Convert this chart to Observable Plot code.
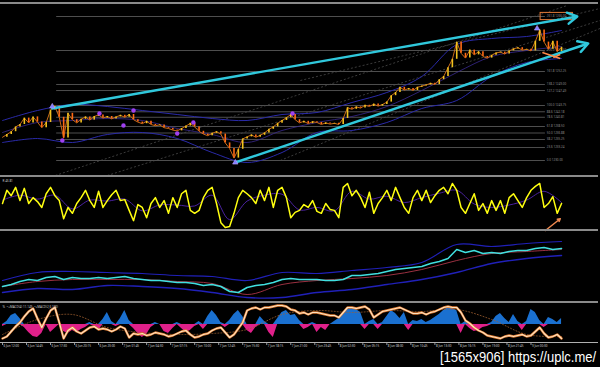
<!DOCTYPE html>
<html><head><meta charset="utf-8">
<script src="https://cdn.jsdelivr.net/npm/d3@7"></script>
<script src="https://cdn.jsdelivr.net/npm/@observablehq/plot@0.6"></script>
<style>
html,body{margin:0;padding:0;background:#000;}
#chart{position:relative;width:600px;height:367px;background:#000;overflow:hidden;font-family:"DejaVu Sans",sans-serif;}
.panel{position:absolute;left:0;}
.sep{position:absolute;left:0;width:598px;background:#8a8a8a;}
</style></head><body><div id="chart"></div>
<script>
// ---------- DATA ----------
// half-hour bars, bar 0 = 6 Jun 12:00
const closes = [1235.8,1236.5,1237.2,1238.4,1239.0,1240.6,1239.4,1240.9,1239.6,1238.2,
1239.5,1242.6,1243.6,1240.8,1235.6,1241.8,1240.2,1239.4,1240.3,1240.9,
1240.1,1241.0,1241.4,1240.6,1241.0,1240.4,1240.9,1241.3,1240.8,1241.5,
1240.2,1239.6,1239.2,1239.8,1239.0,1238.7,1238.9,1238.2,1238.0,1237.6,
1237.4,1238.0,1238.6,1239.3,1238.4,1237.3,1236.6,1236.2,1236.8,1237.2,
1236.6,1234.4,1233.0,1230.6,1232.8,1235.4,1235.9,1236.4,1235.8,1236.3,
1236.9,1237.8,1238.4,1239.3,1240.0,1240.7,1241.5,1240.2,1239.4,1239.8,
1239.2,1239.7,1239.5,1239.0,1239.4,1239.1,1239.3,1239.0,1240.5,1243.2,
1242.8,1243.4,1243.1,1243.8,1243.5,1244.1,1243.6,1244.0,1244.6,1246.2,
1247.0,1248.3,1247.6,1248.0,1247.5,1248.3,1248.6,1248.9,1249.3,1249.0,
1250.2,1251.0,1253.2,1255.3,1259.6,1256.8,1255.6,1257.6,1256.4,1257.2,
1256.0,1255.6,1256.3,1256.9,1257.1,1256.6,1257.4,1257.9,1258.2,1257.6,
1257.8,1257.4,1259.8,1262.6,1259.6,1257.8,1259.8,1257.2,1258.3];

const bandBars = [0,8,16,24,32,40,48,56,64,72,80,88,96,104,112,120,128];
const bbUpper = [1240,1242.5,1244,1243.5,1242.5,1241.5,1240.5,1240.0,1241.5,1242,1244.5,1247,1251,1259,1260.5,1261,1262.5];
const bbMid   = [1237,1239.5,1240,1240.5,1240,1238,1236.5,1234.5,1237.5,1239.5,1241,1243.5,1247.5,1252,1256,1257.5,1258.5];
const bbLower = [1234.5,1235.5,1234.5,1236.5,1237,1235.5,1232,1229.5,1232,1237,1237.5,1239.5,1243,1245,1251,1254.5,1255.5];

const fibLevels = [0,23.6,38.2,50,61.8,78.6,88.6,100,127.2,138.2,161.8,200,261.8];
const fibLow = 1230.00, fibHigh = 1243.75;
const fibStartBar = 12.4, fibEndBar = 124.3, fibLabelBar = 124.6;

const trendArrows = [
  {x1: 11.4, y1: 1243.0, x2: 131.6, y2: 1266.0},
  {x1: 53.3, y1: 1229.5, x2: 134.1, y2: 1259.25}
];
const channelLines = [
  {x1: 12.1, y1: 1226.25, x2: 129.3, y2: 1268.75},
  {x1: 24.0, y1: 1226.25, x2: 136.8, y2: 1265.0},
  {x1: 63.6, y1: 1230.0, x2: 136.8, y2: 1263.0},
  {x1: 68.2, y1: 1250.0, x2: 136.8, y2: 1268.0}
];
const fractalBars   = [13.7, 22.2, 27.7, 30.0, 40.0, 43.7, 66.4];
const fractalPrices = [1235.0, 1241.75, 1238.75, 1242.5, 1236.75, 1239.5, 1241.75];
const pivotBars   = [11.4, 53.3, 122.4];
const pivotPrices = [1243.5, 1229.5, 1263.0];
const orangeMarks = [
  {x1: 123.6, y1: 1257.0, x2: 127.7, y2: 1255.5},
  {x1: 126.1, y1: 1255.75, x2: 127.7, y2: 1256.5}
];

const oscValues = [53,80,69,86,59,84,53,65,57,45,
73,86,69,59,22,45,33,53,65,80,
59,45,78,45,59,71,80,59,61,39,
18,51,45,24,53,65,45,59,33,65,
45,73,80,39,33,39,65,80,86,53,
14,4,6,33,65,80,73,65,53,80,
59,86,45,80,86,65,24,35,39,51,
45,59,37,33,53,41,39,24,86,94,
69,80,65,45,76,33,53,65,80,59,
86,65,45,33,65,80,59,80,55,69,
80,86,73,94,80,45,33,53,73,39,
53,33,59,39,59,33,65,73,59,45,
65,80,88,94,45,53,67,33,53];
const oscSignalBars = [0,4,8,12,16,20,24,28,32,36,40,44,48,52,56,60,64,68,72,76,80,84,88,92,96,100,104,108,112,116,120,124,128];
const oscSignal = [60,70,62,70,42,60,58,62,38,50,50,48,70,20,58,70,72,40,45,38,78,62,68,55,65,74,80,52,45,50,60,78,55];
const oscArrow = [{x1: 124.3, y1: -2, x2: 127.7, y2: 22}];

const momBars = [0,2,4,6,8,10,12,14,16,18,20,22,24,26,28,30,32,34,36,38,40,42,44,46,48,50,52,54,56,58,60,62,64,66,68,70,72,74,76,78,80,82,84,86,88,90,92,94,96,98,100,102,104,106,108,110,112,114,116,118,120,122,124,126,128];
const momValues = [14,16,19,21,20,23,24,21,23,22,22,23,22,23,24,22,21,20,20,19,18,18,17,15,16,14,9,8,13,15,16,18,21,22,21,21,21,20,20,21,25,25,26,27,29,31,32,33,34,37,39,42,51,48,50,47,48,47,49,50,50,52,53,51,52];
const momUpper = [20,28,29,28,27,25,24,20,28,27,30,33,38,56,54,57,59];
const momLower = [8,12,11,15,14,12,8,3,3,8,11,16,21,28,37,42,45];
const momMA    = [14,19,21,21,21,19,17,6,16,20,22,25,31,40,47,49,51];

const stochValues = [-14,-12,-7,-2,2,8,13,16,6,-3,
6,14,17,2,-14,-6,-3,-7,-9,-6,
-3,-2,-5,-4,-5,-7,-5,-2,-4,-13,
-9,-10,-9,-11,-10,-8,-9,-10,-12,-11,
-9,-7,-6,-10,-13,-12,-10,-9,-6,-4,
-3,-8,-13,-10,-4,2,14,16,17,15,
17,17,18,19,19,18,15,14,11,12,
10,12,12,11,10,9,9,7,12,17,
17,16,17,18,15,7,10,13,14,15,
16,17,15,13,11,11,12,10,12,13,
15,17,18,17,17,12,4,1,-3,-6,
-8,-11,-12,-13,-14,-12,-11,-12,-11,-10,
-12,-11,-7,-3,-9,-13,-12,-10,-14];
const histValues = [-2,3,9,11,6,-3,-8,-12,-13,-9,
0,-8,-4,0,-7,-9,-6,-8,-5,-3,
2,-2,-6,5,12,3,-2,6,14,4,
-4,-9,-13,-10,-3,2,0,-7,-9,-4,
2,-4,-8,-6,-2,3,-5,8,14,9,
2,-3,4,10,14,8,-6,-9,-3,8,
3,-8,-13,6,12,14,9,10,4,-5,
-3,2,-8,-3,-6,0,3,6,12,16,
17,15,12,-5,3,5,-5,2,8,14,
11,6,12,-6,4,3,5,2,4,7,
10,14,17,16,14,-9,3,-4,-7,-6,
-3,-2,2,8,11,6,2,10,3,-6,
3,15,12,4,-3,7,5,2,6];
const stochSignal = [-10,5,10,-3,-8,-10,-9,-5,10,14,12,14,13,15,5,-10,-12];

const tickBars = [0,5.5,11,16.5,22,27.5,33,38.5,44,49.5,55,60.5,66,71.5,77,82.5,88,93.5,99,104.5,110,115.5,121];
const tickLabels = ["6 Jun 12:00","6 Jun 14:45","6 Jun 17:30","6 Jun 20:15","6 Jun 23:00","7 Jun 01:45","7 Jun 04:30","7 Jun 07:15","7 Jun 10:00","7 Jun 12:45","7 Jun 15:30","7 Jun 18:15","7 Jun 21:00","7 Jun 23:45","8 Jun 02:30","8 Jun 05:15","8 Jun 08:00","8 Jun 10:45","8 Jun 13:30","8 Jun 16:15","8 Jun 19:00","8 Jun 21:45","9 Jun 00:30"];

const oscLabel = "R 43.81";
const macdLabel = "%  ~+MACD(4) 11.149  ~+MACD(2,6,100)";
const watermark = "[1565x906] https://uplc.me/";

// ---------- BUILD ----------
const chart = document.getElementById("chart");
const X = {domain: [0, 136], range: [2, 596], axis: null};
const bars = closes.map((c, i) => ({bar: i, open: i ? closes[i-1] : c, close: c}));
const osc = oscValues.map((v, i) => ({bar: i, v}));
const stoch = stochValues.map((v, i) => ({bar: i, v}));
const hist = histValues.map((v, i) => ({bar: i, v}));
const fibPrice = L => fibLow + (fibHigh - fibLow) * L / 100;

function place(svg, top) {
  const wrap = document.createElement("div");
  wrap.className = "panel";
  wrap.style.top = top + "px";
  wrap.appendChild(svg);
  chart.appendChild(wrap);
}
function sep(top, h, color) {
  const d = document.createElement("div");
  d.className = "sep"; d.style.top = top + "px"; d.style.height = h + "px";
  if (color) d.style.background = color;
  chart.appendChild(d);
}
const base = {width: 600, margin: 0, style: {background: "transparent", overflow: "visible"}};

// Panel 1: price
place(Plot.plot({...base, height: 176, x: X,
  y: {domain: [1226, 1270], range: [176, 0], axis: null},
  marks: [
    Plot.ruleY(fibLevels, {y: fibPrice, x1: () => fibStartBar, x2: () => fibEndBar, stroke: "#626262", strokeWidth: 0.8}),
    Plot.link(channelLines, {x1: "x1", y1: "y1", x2: "x2", y2: "y2", stroke: "#4a4a4a", strokeWidth: 0.8, strokeDasharray: "2,2"}),
    Plot.text(fibLevels, {x: () => fibLabelBar, y: fibPrice, text: L => `${L.toFixed(1)} ${fibPrice(L).toFixed(2)}`, fontSize: 3, fill: "#8c8c8c", textAnchor: "start"}),
    Plot.rect([261.8], {x1: () => 123.2, x2: () => 130.6, y1: L => fibPrice(L) - 0.9, y2: L => fibPrice(L) + 0.9, stroke: "#e07838", fill: "none", strokeWidth: 1}),
    Plot.line(bandBars, {x: d => d, y: (d, i) => bbUpper[i], stroke: "#2a2aa8", strokeWidth: 1, curve: "catmull-rom"}),
    Plot.line(bandBars, {x: d => d, y: (d, i) => bbMid[i], stroke: "#3a2a90", strokeWidth: 0.8, curve: "catmull-rom"}),
    Plot.line(bandBars, {x: d => d, y: (d, i) => bbLower[i], stroke: "#2a2aa8", strokeWidth: 1, curve: "catmull-rom"}),
    Plot.line(bars, {x: "bar", y: "close", stroke: "#c86a18", strokeWidth: 1}),
    Plot.ruleX(bars, {x: "bar", y1: "open", y2: "close", stroke: d => d.close >= d.open ? "#f2c21e" : "#ff6a14", strokeWidth: 1.6}),
    Plot.arrow(trendArrows, {x1: "x1", y1: "y1", x2: "x2", y2: "y2", stroke: "#30c8dc", strokeWidth: 2.4, headLength: 7}),
    Plot.link(orangeMarks, {x1: "x1", y1: "y1", x2: "x2", y2: "y2", stroke: "#ff8a4a", strokeWidth: 1.4}),
    Plot.dot(fractalBars, {x: d => d, y: (d, i) => fractalPrices[i], r: 2.2, fill: "#a040f0"}),
    Plot.dot(pivotBars, {x: d => d, y: (d, i) => pivotPrices[i], r: 2, symbol: "triangle", fill: "#8080ff", stroke: "#c0a0ff", strokeWidth: 0.6})
  ]}), 0);

// Panel 2: oscillator
place(Plot.plot({...base, height: 52, x: X,
  y: {domain: [0, 100], range: [51, 2], axis: null},
  marks: [
    Plot.line(oscSignalBars, {x: d => d, y: (d, i) => oscSignal[i], stroke: "#4a22a0", strokeWidth: 1, curve: "catmull-rom"}),
    Plot.line(osc, {x: "bar", y: "v", stroke: "#ffff10", strokeWidth: 1.5}),
    Plot.arrow(oscArrow, {x1: "x1", y1: "y1", x2: "x2", y2: "y2", stroke: "#f08a50", strokeWidth: 1.5, headLength: 3}),
    Plot.text([oscLabel], {frameAnchor: "top-left", dx: 2, dy: 1, fontSize: 3, fill: "#cccccc"})
  ]}), 178);

// Panel 3: momentum with bands
place(Plot.plot({...base, height: 70, x: X,
  y: {domain: [0, 68], range: [68, 0], axis: null},
  marks: [
    Plot.line(bandBars, {x: d => d, y: (d, i) => momUpper[i], stroke: "#2020b8", strokeWidth: 1.2, curve: "catmull-rom"}),
    Plot.line(bandBars, {x: d => d, y: (d, i) => momLower[i], stroke: "#2020b8", strokeWidth: 1.4, curve: "catmull-rom"}),
    Plot.line(bandBars, {x: d => d, y: (d, i) => momMA[i], stroke: "#9a3040", strokeWidth: 1, curve: "catmull-rom"}),
    Plot.line(momBars, {x: d => d, y: (d, i) => momValues[i], stroke: "#40e0e0", strokeWidth: 1.5})
  ]}), 232);

// Panel 4: histogram + stochastic
place(Plot.plot({...base, height: 38, x: X,
  y: {domain: [-20, 20], range: [40, 0], axis: null},
  marks: [
    Plot.areaY(hist, {x: "bar", y: d => Math.max(0, d.v), fill: "#1a70d0"}),
    Plot.areaY(hist, {x: "bar", y: d => Math.min(0, d.v), fill: "#e0208a"}),
    Plot.line(bandBars, {x: d => d, y: (d, i) => stochSignal[i], stroke: "#a06030", strokeWidth: 0.8, strokeDasharray: "1,2", curve: "catmull-rom"}),
    Plot.line(stoch, {x: "bar", y: "v", stroke: "#e07a30", strokeWidth: 2.4}),
    Plot.line(stoch, {x: "bar", y: "v", stroke: "#fde2c0", strokeWidth: 1.2}),
    Plot.text([macdLabel], {frameAnchor: "top-left", dx: 2, dy: 1, fontSize: 3, fill: "#cccccc"})
  ]}), 304);

// Time axis
place(Plot.plot({...base, height: 10, x: X,
  y: {domain: [0, 10], range: [0, 10], axis: null},
  marks: [
    Plot.ruleX(tickBars, {x: d => d, y1: () => 0, y2: () => 3, stroke: "#bbbbbb", strokeWidth: 0.8}),
    Plot.text(tickBars, {x: d => d, y: () => 4, text: (d, i) => tickLabels[i], fontSize: 3, fill: "#cfcfcf", textAnchor: "start", dx: 1})
  ]}), 342);

// separators
sep(2, 2); sep(175, 2); sep(229, 2); sep(301, 2); sep(342, 1, "#b0b0b0");

// watermark
const wm = d3.select(chart).append("div")
  .style("position", "absolute").style("left", "440px").style("top", "349px")
  .style("color", "#ffffff").style("font-family", "'Liberation Sans', sans-serif")
  .style("font-size", "13px").style("line-height", "13px").style("white-space", "nowrap")
  .style("transform", "scaleY(1.15)").style("transform-origin", "left top")
  .text(watermark);
</script></body></html>
